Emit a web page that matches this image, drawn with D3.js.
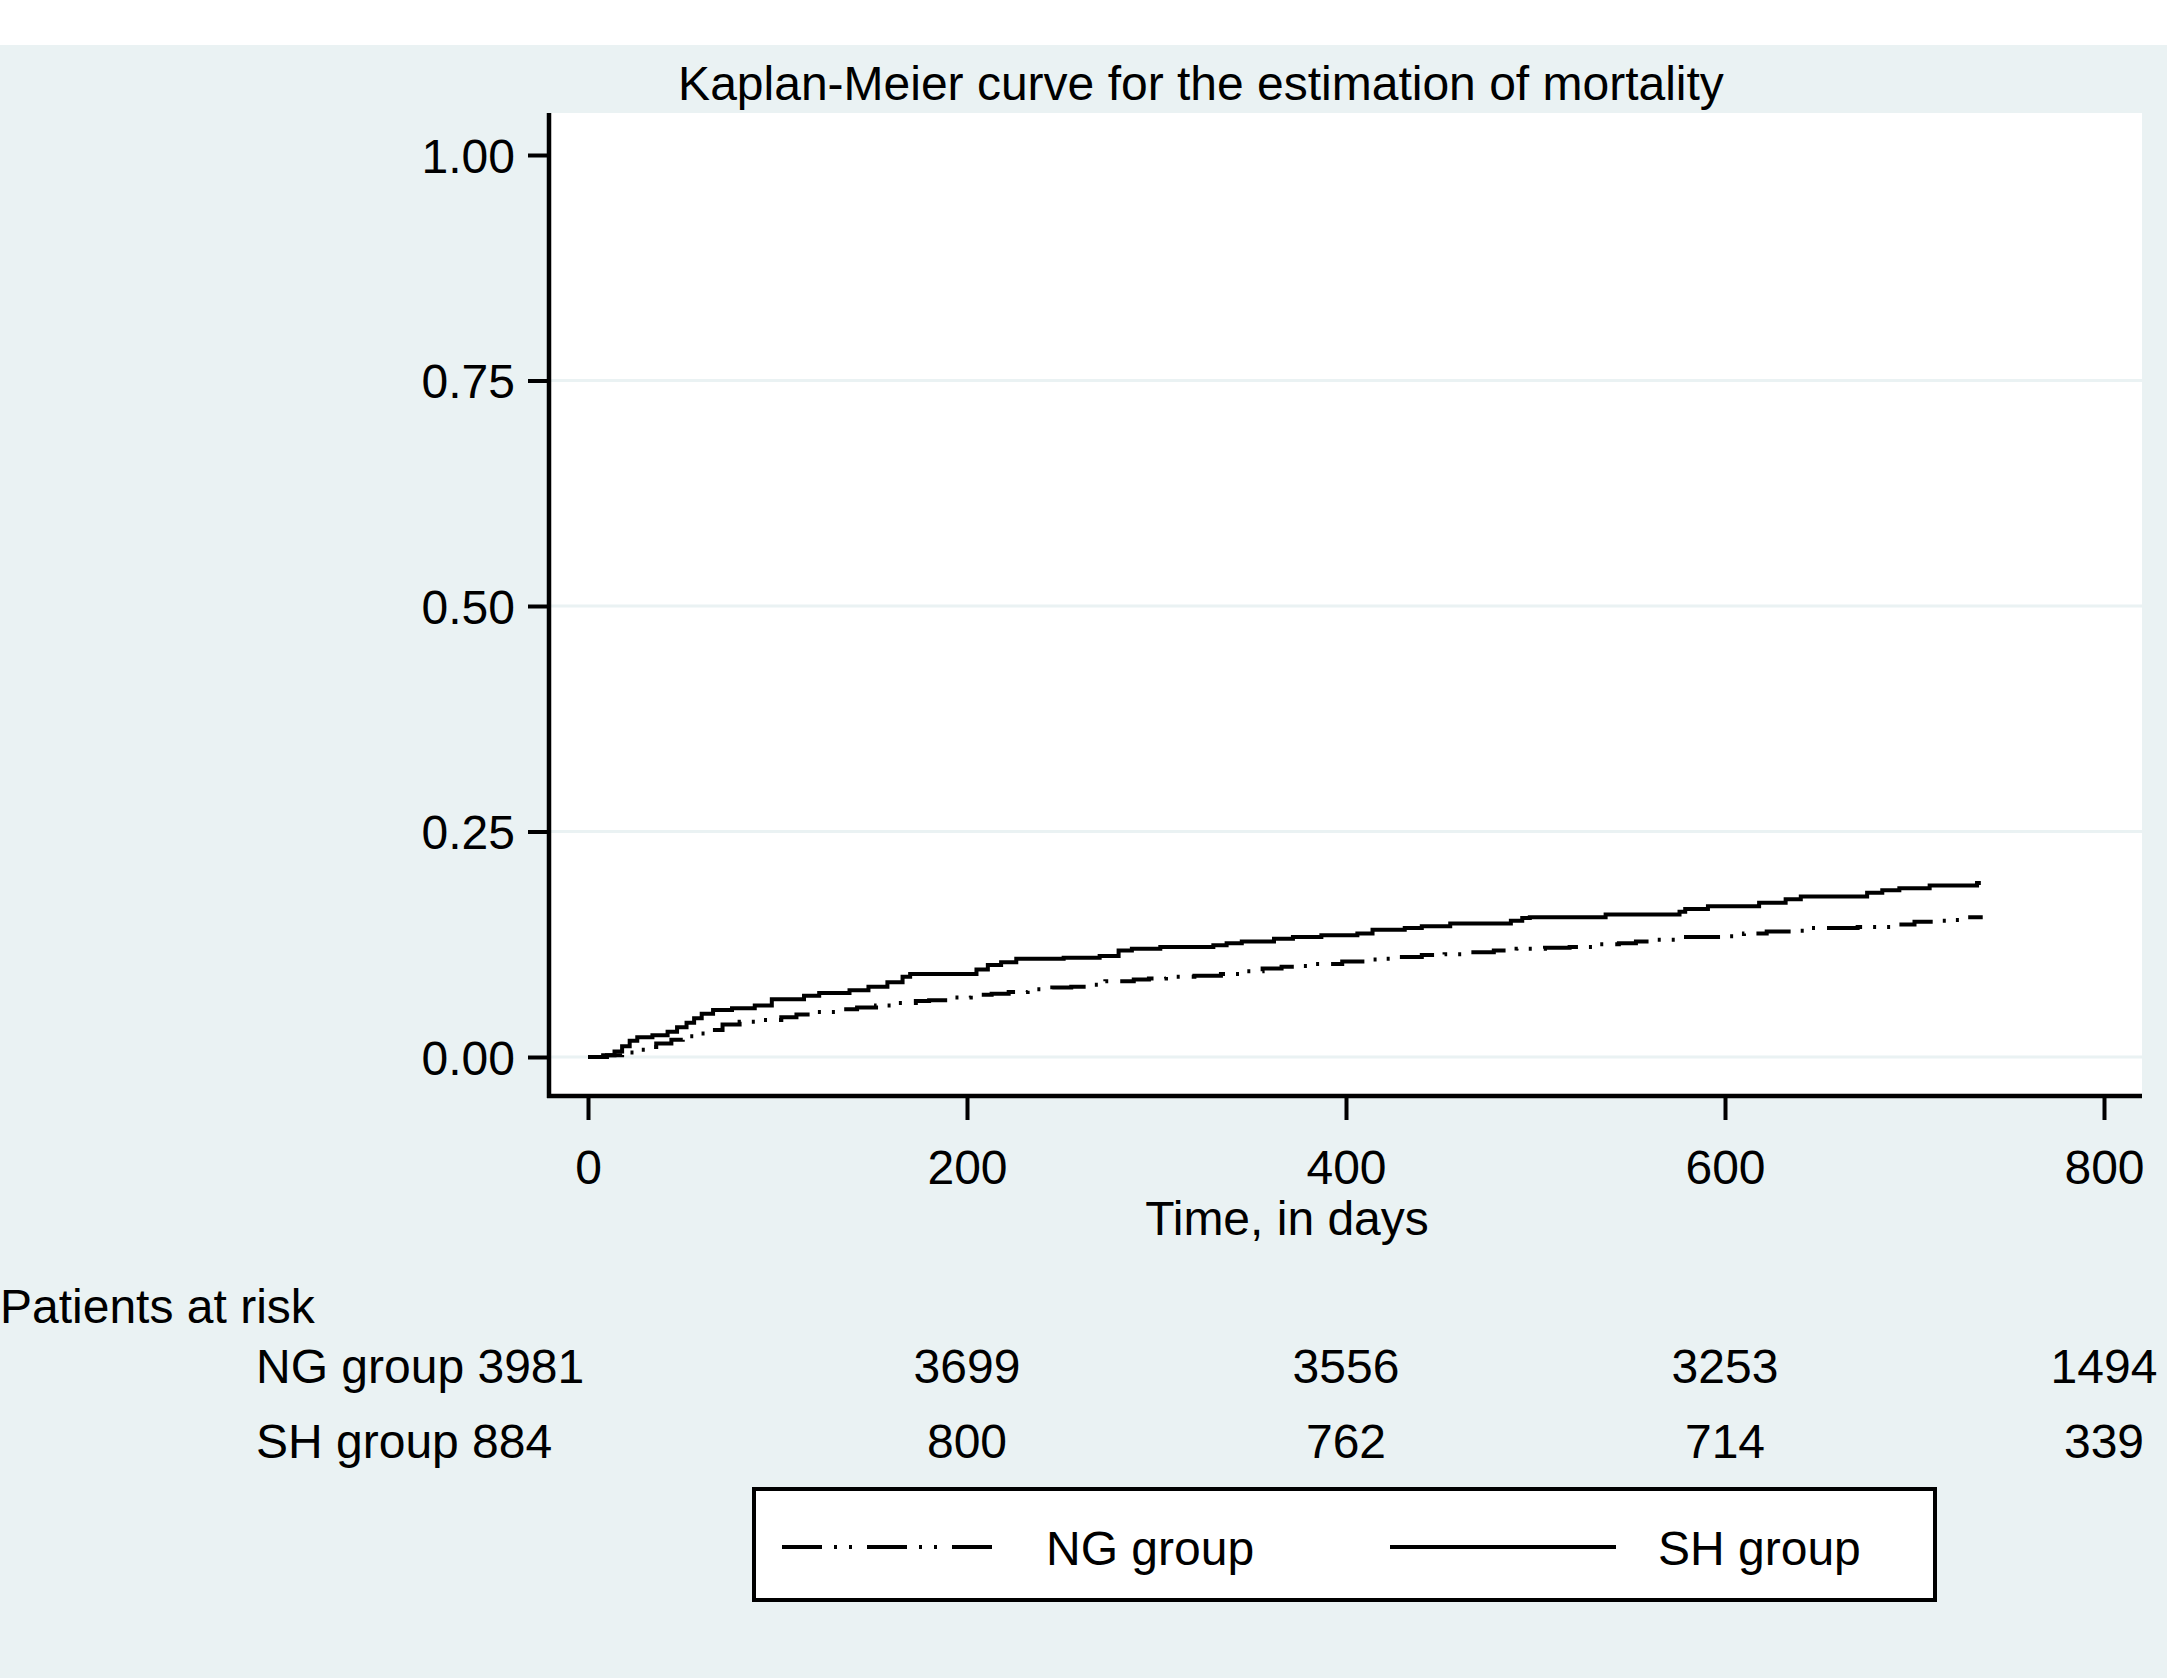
<!DOCTYPE html>
<html lang="en">
<head>
    <meta charset="UTF-8">
    <title>Kaplan-Meier curve for the estimation of mortality</title>
    <style>
        body { margin: 0; background: #ffffff; }
        svg { display: block; font-family: "Liberation Sans", Arial, sans-serif; }
    </style>
</head>
<body>
    <svg id="km" width="2167" height="1678"></svg>

    <script src="https://cdn.jsdelivr.net/npm/d3@7/dist/d3.min.js"></script>
    <script>
        // Kaplan-Meier failure estimates (step times in days, cumulative mortality)
        const ngTimes  = [0, 10, 18, 25, 30, 36, 44, 50, 56, 64, 71, 80, 90, 102, 110, 120, 133, 142, 152, 162,
                          173, 180, 190, 202, 213, 222, 232, 245, 255, 263, 273, 288, 296, 305, 320, 334, 345,
                          356, 366, 375, 384, 398, 410, 420, 428, 440, 452, 466, 478, 490, 505, 518, 530, 544,
                          553, 563, 575, 598, 610, 622, 635, 645, 670, 688, 700, 711, 720, 728, 736];
        const ngValues = [0, 0.002, 0.005, 0.008, 0.011, 0.015, 0.019, 0.023, 0.026, 0.030, 0.036, 0.039, 0.041,
                          0.044, 0.047, 0.050, 0.053, 0.055, 0.057, 0.060, 0.062, 0.063, 0.066, 0.069, 0.070,
                          0.072, 0.075, 0.077, 0.078, 0.080, 0.084, 0.086, 0.087, 0.089, 0.090, 0.092, 0.095,
                          0.098, 0.100, 0.101, 0.103, 0.106, 0.108, 0.109, 0.111, 0.113, 0.114, 0.116, 0.118,
                          0.120, 0.121, 0.122, 0.125, 0.126, 0.128, 0.130, 0.133, 0.134, 0.137, 0.139, 0.140,
                          0.143, 0.144, 0.147, 0.150, 0.151, 0.152, 0.155, 0.155];

        const shTimes  = [0, 8, 14, 18, 22, 26, 34, 42, 47, 52, 56, 60, 66, 76, 88, 97, 114, 122, 138, 148, 158,
                          166, 170, 205, 211, 218, 226, 251, 270, 280, 287, 302, 330, 337, 345, 362, 372, 387,
                          406, 414, 431, 440, 455, 487, 493, 497, 537, 576, 579, 591, 618, 632, 640, 675, 683,
                          692, 708, 733, 735];
        const shValues = [0, 0.002, 0.006, 0.012, 0.018, 0.022, 0.024, 0.028, 0.033, 0.038, 0.043, 0.048, 0.052,
                          0.054, 0.057, 0.064, 0.068, 0.071, 0.074, 0.078, 0.083, 0.089, 0.092, 0.097, 0.102,
                          0.105, 0.109, 0.110, 0.112, 0.118, 0.120, 0.122, 0.124, 0.126, 0.128, 0.131, 0.133,
                          0.135, 0.137, 0.141, 0.143, 0.145, 0.148, 0.151, 0.154, 0.155, 0.158, 0.161, 0.164,
                          0.167, 0.171, 0.175, 0.178, 0.182, 0.185, 0.187, 0.190, 0.193, 0.193];

        const yTicks = [0, 0.25, 0.5, 0.75, 1];
        const xTicks = [0, 200, 400, 600, 800];
        const riskTimes = [200, 400, 600, 800];
        const ngAtRisk = [3699, 3556, 3253, 1494];
        const shAtRisk = [800, 762, 714, 339];

        const svg = d3.select("#km");
        const W = 2167, H = 1678;
        const fs = 48;
        const bg = "#eaf2f3";
        const ngDash = "36,11,3,11,3,12";

        // background + plot region
        svg.append("rect").attr("x", 0).attr("y", 45).attr("width", W).attr("height", H - 45).attr("fill", bg);
        const plot = { left: 549, right: 2142, top: 113, bottom: 1096 };
        svg.append("rect")
            .attr("x", plot.left).attr("y", plot.top)
            .attr("width", plot.right - plot.left).attr("height", plot.bottom - plot.top)
            .attr("fill", "#fff");

        const x = d3.scaleLinear().domain([0, 800]).range([588, 2104]);
        const y = d3.scaleLinear().domain([0, 1]).range([1057, 155]);

        // grid lines (not at 1.00)
        svg.append("g").selectAll("line")
            .data(yTicks.filter(d => d < 1))
            .join("line")
            .attr("x1", plot.left).attr("x2", plot.right)
            .attr("y1", d => y(d)).attr("y2", d => y(d))
            .attr("stroke", bg).attr("stroke-width", 3);

        // y axis
        const yAxis = svg.append("g")
            .attr("transform", `translate(${plot.left},0)`)
            .call(d3.axisLeft(y).tickValues(yTicks).tickFormat(d3.format(".2f")).tickSize(21).tickPadding(13));
        yAxis.select(".domain").remove();
        yAxis.selectAll(".tick line").attr("stroke", "#000").attr("stroke-width", 4);
        yAxis.selectAll(".tick text").attr("font-size", fs).attr("font-family", "Liberation Sans, Arial, sans-serif")
            .attr("fill", "#000").attr("dy", "0.36em");

        // x axis
        const xAxis = svg.append("g")
            .attr("transform", `translate(0,${plot.bottom})`)
            .call(d3.axisBottom(x).tickValues(xTicks).tickSize(24).tickPadding(30));
        xAxis.select(".domain").remove();
        xAxis.selectAll(".tick line").attr("stroke", "#000").attr("stroke-width", 4);
        xAxis.selectAll(".tick text").attr("font-size", fs).attr("font-family", "Liberation Sans, Arial, sans-serif")
            .attr("fill", "#000").attr("dy", "0.71em");

        // axis lines
        svg.append("line").attr("x1", plot.left).attr("x2", plot.left)
            .attr("y1", plot.top).attr("y2", plot.bottom + 2)
            .attr("stroke", "#000").attr("stroke-width", 4.5);
        svg.append("line").attr("x1", plot.left - 2).attr("x2", plot.right)
            .attr("y1", plot.bottom).attr("y2", plot.bottom)
            .attr("stroke", "#000").attr("stroke-width", 4.5);

        // curves
        const line = d3.line()
            .x(d => x(d[0]))
            .y(d => y(d[1]))
            .curve(d3.curveStepAfter);

        svg.append("path")
            .datum(d3.zip(ngTimes, ngValues))
            .attr("d", line)
            .attr("fill", "none").attr("stroke", "#000").attr("stroke-width", 4)
            .attr("stroke-dasharray", ngDash);

        svg.append("path")
            .datum(d3.zip(shTimes, shValues))
            .attr("d", line)
            .attr("fill", "none").attr("stroke", "#000").attr("stroke-width", 4);

        // titles
        const txt = (tx, ty, s, anchor) => svg.append("text")
            .attr("x", tx).attr("y", ty).attr("text-anchor", anchor || "start")
            .attr("font-size", fs).attr("fill", "#000").text(s);

        txt(1201, 100, "Kaplan-Meier curve for the estimation of mortality", "middle");
        txt(1287, 1235, "Time, in days", "middle");

        // patients at risk
        txt(0, 1323, "Patients at risk");
        txt(256, 1383, "NG group 3981");
        txt(256, 1458, "SH group 884");
        svg.append("g").selectAll("text")
            .data(ngAtRisk)
            .join("text")
            .attr("x", (d, i) => x(riskTimes[i])).attr("y", 1383)
            .attr("text-anchor", "middle").attr("font-size", fs)
            .text(d => d);
        svg.append("g").selectAll("text")
            .data(shAtRisk)
            .join("text")
            .attr("x", (d, i) => x(riskTimes[i])).attr("y", 1458)
            .attr("text-anchor", "middle").attr("font-size", fs)
            .text(d => d);

        // legend
        svg.append("rect").attr("x", 754).attr("y", 1489).attr("width", 1181).attr("height", 111)
            .attr("fill", "#fff").attr("stroke", "#000").attr("stroke-width", 4);
        svg.append("line").attr("x1", 782).attr("x2", 1004).attr("y1", 1547).attr("y2", 1547)
            .attr("stroke", "#000").attr("stroke-width", 4).attr("stroke-dasharray", "40,12,3,12,3,15");
        txt(1046, 1565, "NG group");
        svg.append("line").attr("x1", 1390).attr("x2", 1616).attr("y1", 1547).attr("y2", 1547)
            .attr("stroke", "#000").attr("stroke-width", 4);
        txt(1658, 1565, "SH group");
    </script>
</body>
</html>
